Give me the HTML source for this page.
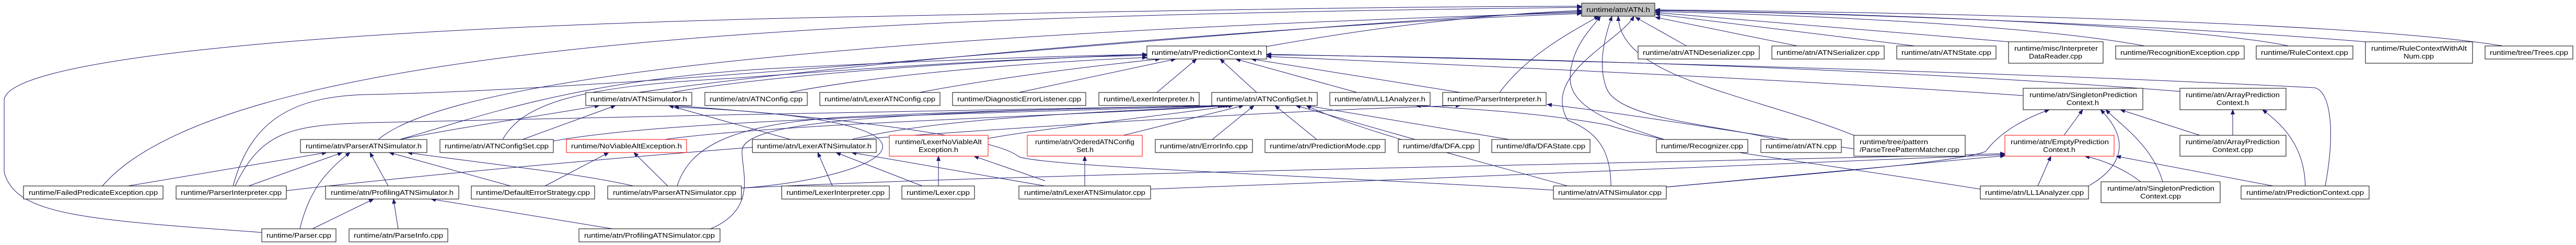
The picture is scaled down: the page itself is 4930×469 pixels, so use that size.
<!DOCTYPE html>
<html><head><meta charset="utf-8"><style>
html,body{margin:0;padding:0;background:#fff;}
svg{display:block;}
text{font-family:"Liberation Sans","DejaVu Sans",sans-serif;font-size:13px;fill:#000;}
.b{fill:#fff;stroke:#000;stroke-width:1;}
.r{fill:#fff;stroke:#ff0000;stroke-width:1;}
.g{fill:#bfbfbf;stroke:#000;stroke-width:1;}
.e{fill:none;stroke:#191970;stroke-width:1;marker-end:url(#ah);}
</style></head><body>
<svg width="4930" height="469" viewBox="0 0 4930 469" xmlns="http://www.w3.org/2000/svg">
<defs><marker id="ah" markerWidth="10" markerHeight="8" refX="9" refY="4" orient="auto" markerUnits="userSpaceOnUse"><path d="M0,0 L10,4 L0,8 z" fill="#191970"/></marker></defs>
<rect width="4930" height="469" fill="#fff"/>
<g>
<!-- to ATN.h -->
<path class="e" d="M2424,89 C2700,40 2900,25 3027,20"/>
<path class="e" d="M196,356 C450,60 1800,30 3027,14"/>
<path class="e" d="M501,445 C150,420 30,410 8,330 L8,190 C20,120 500,60 1500,35 C2200,20 2700,12 3027,12"/>
<path class="e" d="M446,356 C480,230 560,185 700,181 C1300,170 2500,40 3027,22"/>
<path class="e" d="M724,267 C850,160 1500,70 3027,24"/>
<path class="e" d="M1222,177 C1700,110 2600,40 3027,26"/>
<path class="e" d="M2870,177 C2920,110 2990,70 3060,31"/>
<path class="e" d="M3185,267 C3100,240 3005,210 3005,150 C3005,90 3050,50 3063,31"/>
<path class="e" d="M3397,267 C3300,240 3100,230 3075,170 C3055,120 3075,60 3085,31"/>
<path class="e" d="M3548,259 C3350,180 3100,150 3097,31"/>
<path class="e" d="M3083,356 C3083,280 3050,250 3000,230 C2950,140 3100,80 3127,31"/>
<path class="e" d="M3228,88 L3130,33"/>
<path class="e" d="M3440,88 L3168,33"/>
<path class="e" d="M3665,88 L3168,27"/>
<path class="e" d="M3844,80 L3168,24"/>
<path class="e" d="M4105,88 C3900,50 3500,30 3168,22"/>
<path class="e" d="M4380,88 C4200,50 3600,25 3168,20"/>
<path class="e" d="M4527,80 C4100,45 3500,25 3168,20"/>
<path class="e" d="M4790,88 C4500,40 3600,22 3168,19"/>
<!-- to PredictionContext.h -->
<path class="e" d="M1285,177 C1500,140 1900,115 2195,104"/>
<path class="e" d="M1510,177 C1700,140 2000,118 2195,110"/>
<path class="e" d="M1760,177 C1900,150 2100,125 2220,113"/>
<path class="e" d="M1950,177 L2250,113"/>
<path class="e" d="M2214,177 L2290,113"/>
<path class="e" d="M2405,177 L2335,113"/>
<path class="e" d="M2597,177 L2365,113"/>
<path class="e" d="M2795,177 L2395,113"/>
<path class="e" d="M765,267 C900,230 1100,150 1500,130 C1800,115 2000,108 2195,104"/>
<path class="e" d="M962,267 C1000,200 1100,165 1400,150 C1800,120 2000,110 2195,106"/>
<path class="e" d="M3872,183 C3400,150 2800,125 2424,108"/>
<path class="e" d="M4172,175 C3600,130 2900,110 2424,105"/>
<path class="e" d="M4450,356 C4470,250 4460,175 4430,168 C3900,140 3000,115 2424,104"/>
<!-- to ATNConfigSet.h -->
<path class="e" d="M1059,270 C1300,225 2000,215 2345,202"/>
<path class="e" d="M1272,267 C1500,235 2100,220 2350,202"/>
<path class="e" d="M1630,267 C1800,225 2100,215 2355,202"/>
<path class="e" d="M1891,265 C2000,245 2200,225 2360,202"/>
<path class="e" d="M2150,259 L2380,202"/>
<path class="e" d="M2320,267 L2400,202"/>
<path class="e" d="M2520,267 L2440,202"/>
<path class="e" d="M2708,267 L2480,202"/>
<path class="e" d="M2888,267 L2500,202"/>
<path class="e" d="M1296,356 C1320,280 1400,240 1600,225 C1900,210 2200,205 2345,202"/>
<path class="e" d="M450,356 C500,250 560,240 700,235 C1200,220 2000,212 2340,202"/>
<path class="e" d="M1360,438 C1450,400 1420,330 1420,290 C1420,240 1600,215 2345,202"/>
<path class="e" d="M3000,356 C2800,300 2600,250 2500,202"/>
<!-- to ATNSimulator.h -->
<path class="e" d="M765,267 C900,240 1050,220 1147,202"/>
<path class="e" d="M1000,267 L1178,202"/>
<path class="e" d="M1513,267 L1280,202"/>
<path class="e" d="M2973,364 C2600,340 2000,320 1950,300 C1900,260 1600,225 1290,202"/>
<path class="e" d="M1420,360 C1700,340 1900,230 1290,205"/>
<!-- to ParserATNSimulator.h -->
<path class="e" d="M245,356 L625,292"/>
<path class="e" d="M476,356 L655,292"/>
<path class="e" d="M574,438 C590,370 620,330 670,292"/>
<path class="e" d="M743,356 L708,292"/>
<path class="e" d="M977,356 L745,292"/>
<path class="e" d="M1212,356 C1100,330 900,310 780,292"/>
<!-- to ProfilingATNSimulator.h -->
<path class="e" d="M598,438 L715,381"/>
<path class="e" d="M762,438 L753,381"/>
<path class="e" d="M1172,438 L825,381"/>
<!-- NoViableAlt -->
<path class="e" d="M1043,356 L1165,292"/>
<path class="e" d="M1278,356 L1213,292"/>
<!-- LexerATNSimulator.h -->
<path class="e" d="M1593,356 L1565,292"/>
<path class="e" d="M1765,356 L1600,292"/>
<path class="e" d="M2000,356 L1630,292"/>
<path class="e" d="M1796,356 L1796,299"/>
<path class="e" d="M2000,346 L1864,299"/>
<path class="e" d="M2076,356 L2076,299"/>
<!-- LL1Analyzer.h, ParserInterpreter.h -->
<path class="e" d="M3790,362 C3400,300 3200,280 3080,240 C2950,215 2800,208 2710,202"/>
<path class="e" d="M548,365 C1200,290 2300,215 2795,202"/>
<path class="e" d="M3548,285 C3300,250 3100,215 2961,200"/>
<!-- SingletonPredictionContext.h -->
<path class="e" d="M3950,259 L3986,210"/>
<path class="e" d="M4139,348 C4120,280 4060,240 4030,210"/>
<path class="e" d="M4210,259 L4058,210"/>
<path class="e" d="M3997,356 C4060,320 4080,270 4020,210"/>
<path class="e" d="M3189,358 C3500,330 3750,310 3800,290 C3830,250 3880,225 3922,210"/>
<!-- EmptyPredictionContext.h -->
<path class="e" d="M3900,356 L3925,299"/>
<path class="e" d="M4097,348 C4060,320 4020,305 3990,299"/>
<path class="e" d="M4350,356 L4050,299"/>
<path class="e" d="M2202,362 C2800,340 3500,310 3837,296"/>
<path class="e" d="M3189,358 L3837,298"/>
<path class="e" d="M1419,360 C2000,330 3300,310 3837,294"/>
<!-- ArrayPredictionContext.h -->
<path class="e" d="M4273,259 L4273,210"/>
<path class="e" d="M4412,356 C4410,280 4370,240 4330,210"/>
</g>
<g>
<rect class="g" x="3027" y="6" width="140" height="25"/><text x="3036" y="23" textLength="122" lengthAdjust="spacingAndGlyphs">runtime/atn/ATN.h</text>
<rect class="b" x="2195" y="88" width="229" height="25"/><text x="2204" y="105" textLength="211" lengthAdjust="spacingAndGlyphs">runtime/atn/PredictionContext.h</text>
<rect class="b" x="3135" y="88" width="232" height="25"/><text x="3144" y="105" textLength="214" lengthAdjust="spacingAndGlyphs">runtime/atn/ATNDeserializer.cpp</text>
<rect class="b" x="3391" y="88" width="215" height="25"/><text x="3400" y="105" textLength="197" lengthAdjust="spacingAndGlyphs">runtime/atn/ATNSerializer.cpp</text>
<rect class="b" x="3630" y="88" width="190" height="25"/><text x="3639" y="105" textLength="172" lengthAdjust="spacingAndGlyphs">runtime/atn/ATNState.cpp</text>
<rect class="b" x="3844" y="80" width="181" height="41"/><text x="3855" y="97" textLength="160" lengthAdjust="spacingAndGlyphs">runtime/misc/Interpreter</text><text x="3883" y="112" textLength="102" lengthAdjust="spacingAndGlyphs">DataReader.cpp</text>
<rect class="b" x="4049" y="88" width="246" height="25"/><text x="4058" y="105" textLength="228" lengthAdjust="spacingAndGlyphs">runtime/RecognitionException.cpp</text>
<rect class="b" x="4318" y="88" width="185" height="25"/><text x="4327" y="105" textLength="167" lengthAdjust="spacingAndGlyphs">runtime/RuleContext.cpp</text>
<rect class="b" x="4527" y="80" width="205" height="41"/><text x="4538" y="97" textLength="183" lengthAdjust="spacingAndGlyphs">runtime/RuleContextWithAlt</text><text x="4600" y="112" textLength="58" lengthAdjust="spacingAndGlyphs">Num.cpp</text>
<rect class="b" x="4756" y="88" width="168" height="25"/><text x="4765" y="105" textLength="150" lengthAdjust="spacingAndGlyphs">runtime/tree/Trees.cpp</text>

<rect class="b" x="1121" y="177" width="203" height="25"/><text x="1130" y="194" textLength="185" lengthAdjust="spacingAndGlyphs">runtime/atn/ATNSimulator.h</text>
<rect class="b" x="1349" y="177" width="196" height="25"/><text x="1358" y="194" textLength="178" lengthAdjust="spacingAndGlyphs">runtime/atn/ATNConfig.cpp</text>
<rect class="b" x="1569" y="177" width="230" height="25"/><text x="1578" y="194" textLength="212" lengthAdjust="spacingAndGlyphs">runtime/atn/LexerATNConfig.cpp</text>
<rect class="b" x="1823" y="177" width="255" height="25"/><text x="1832" y="194" textLength="237" lengthAdjust="spacingAndGlyphs">runtime/DiagnosticErrorListener.cpp</text>
<rect class="b" x="2103" y="177" width="192" height="25"/><text x="2112" y="194" textLength="174" lengthAdjust="spacingAndGlyphs">runtime/LexerInterpreter.h</text>
<rect class="b" x="2319" y="177" width="202" height="25"/><text x="2328" y="194" textLength="184" lengthAdjust="spacingAndGlyphs">runtime/atn/ATNConfigSet.h</text>
<rect class="b" x="2545" y="177" width="192" height="25"/><text x="2554" y="194" textLength="174" lengthAdjust="spacingAndGlyphs">runtime/atn/LL1Analyzer.h</text>
<rect class="b" x="2761" y="177" width="198" height="25"/><text x="2770" y="194" textLength="180" lengthAdjust="spacingAndGlyphs">runtime/ParserInterpreter.h</text>
<rect class="b" x="3872" y="169" width="229" height="41"/><text x="3884" y="186" textLength="206" lengthAdjust="spacingAndGlyphs">runtime/atn/SingletonPrediction</text><text x="3955" y="201" textLength="62" lengthAdjust="spacingAndGlyphs">Context.h</text>
<rect class="b" x="4172" y="169" width="203" height="41"/><text x="4183" y="186" textLength="180" lengthAdjust="spacingAndGlyphs">runtime/atn/ArrayPrediction</text><text x="4242" y="201" textLength="62" lengthAdjust="spacingAndGlyphs">Context.h</text>

<rect class="b" x="575" y="267" width="242" height="25"/><text x="585" y="284" textLength="222" lengthAdjust="spacingAndGlyphs">runtime/atn/ParserATNSimulator.h</text>
<rect class="b" x="842" y="267" width="217" height="25"/><text x="851" y="284" textLength="199" lengthAdjust="spacingAndGlyphs">runtime/atn/ATNConfigSet.cpp</text>
<rect class="r" x="1084" y="267" width="230" height="25"/><text x="1093" y="284" textLength="212" lengthAdjust="spacingAndGlyphs">runtime/NoViableAltException.h</text>
<rect class="b" x="1440" y="267" width="237" height="25"/><text x="1449" y="284" textLength="219" lengthAdjust="spacingAndGlyphs">runtime/atn/LexerATNSimulator.h</text>
<rect class="r" x="1702" y="259" width="189" height="40"/><text x="1713" y="276" textLength="166" lengthAdjust="spacingAndGlyphs">runtime/LexerNoViableAlt</text><text x="1758" y="291" textLength="76" lengthAdjust="spacingAndGlyphs">Exception.h</text>
<rect class="r" x="1966" y="259" width="220" height="40"/><text x="1981" y="276" textLength="190" lengthAdjust="spacingAndGlyphs">runtime/atn/OrderedATNConfig</text><text x="2060" y="291" textLength="33" lengthAdjust="spacingAndGlyphs">Set.h</text>
<rect class="b" x="2211" y="267" width="186" height="25"/><text x="2220" y="284" textLength="168" lengthAdjust="spacingAndGlyphs">runtime/atn/ErrorInfo.cpp</text>
<rect class="b" x="2421" y="267" width="230" height="25"/><text x="2430" y="284" textLength="212" lengthAdjust="spacingAndGlyphs">runtime/atn/PredictionMode.cpp</text>
<rect class="b" x="2676" y="267" width="155" height="25"/><text x="2685" y="284" textLength="137" lengthAdjust="spacingAndGlyphs">runtime/dfa/DFA.cpp</text>
<rect class="b" x="2855" y="267" width="188" height="25"/><text x="2864" y="284" textLength="170" lengthAdjust="spacingAndGlyphs">runtime/dfa/DFAState.cpp</text>
<rect class="b" x="3170" y="267" width="175" height="25"/><text x="3179" y="284" textLength="157" lengthAdjust="spacingAndGlyphs">runtime/Recognizer.cpp</text>
<rect class="b" x="3370" y="267" width="154" height="25"/><text x="3379" y="284" textLength="136" lengthAdjust="spacingAndGlyphs">runtime/atn/ATN.cpp</text>
<rect class="b" x="3548" y="259" width="213" height="40"/><text x="3559" y="276" textLength="131" lengthAdjust="spacingAndGlyphs">runtime/tree/pattern</text><text x="3559" y="291" textLength="191" lengthAdjust="spacingAndGlyphs">/ParseTreePatternMatcher.cpp</text>
<rect class="r" x="3837" y="259" width="209" height="40"/><text x="3848" y="276" textLength="188" lengthAdjust="spacingAndGlyphs">runtime/atn/EmptyPrediction</text><text x="3910" y="291" textLength="62" lengthAdjust="spacingAndGlyphs">Context.h</text>
<rect class="b" x="4172" y="259" width="203" height="40"/><text x="4183" y="276" textLength="180" lengthAdjust="spacingAndGlyphs">runtime/atn/ArrayPrediction</text><text x="4234" y="291" textLength="78" lengthAdjust="spacingAndGlyphs">Context.cpp</text>

<rect class="b" x="45" y="356" width="267" height="25"/><text x="55" y="373" textLength="247" lengthAdjust="spacingAndGlyphs">runtime/FailedPredicateException.cpp</text>
<rect class="b" x="337" y="356" width="211" height="25"/><text x="346" y="373" textLength="193" lengthAdjust="spacingAndGlyphs">runtime/ParserInterpreter.cpp</text>
<rect class="b" x="623" y="356" width="255" height="25"/><text x="633" y="373" textLength="235" lengthAdjust="spacingAndGlyphs">runtime/atn/ProfilingATNSimulator.h</text>
<rect class="b" x="902" y="356" width="236" height="25"/><text x="911" y="373" textLength="218" lengthAdjust="spacingAndGlyphs">runtime/DefaultErrorStrategy.cpp</text>
<rect class="b" x="1163" y="356" width="256" height="25"/><text x="1173" y="373" textLength="236" lengthAdjust="spacingAndGlyphs">runtime/atn/ParserATNSimulator.cpp</text>
<rect class="b" x="1496" y="356" width="206" height="25"/><text x="1505" y="373" textLength="188" lengthAdjust="spacingAndGlyphs">runtime/LexerInterpreter.cpp</text>
<rect class="b" x="1726" y="356" width="139" height="25"/><text x="1735" y="373" textLength="121" lengthAdjust="spacingAndGlyphs">runtime/Lexer.cpp</text>
<rect class="b" x="1950" y="356" width="252" height="25"/><text x="1960" y="373" textLength="232" lengthAdjust="spacingAndGlyphs">runtime/atn/LexerATNSimulator.cpp</text>
<rect class="b" x="2973" y="356" width="216" height="25"/><text x="2982" y="373" textLength="198" lengthAdjust="spacingAndGlyphs">runtime/atn/ATNSimulator.cpp</text>
<rect class="b" x="3790" y="356" width="207" height="25"/><text x="3799" y="373" textLength="189" lengthAdjust="spacingAndGlyphs">runtime/atn/LL1Analyzer.cpp</text>
<rect class="b" x="4021" y="348" width="228" height="40"/><text x="4033" y="365" textLength="205" lengthAdjust="spacingAndGlyphs">runtime/atn/SingletonPrediction</text><text x="4096" y="380" textLength="78" lengthAdjust="spacingAndGlyphs">Context.cpp</text>
<rect class="b" x="4289" y="356" width="245" height="25"/><text x="4299" y="373" textLength="225" lengthAdjust="spacingAndGlyphs">runtime/atn/PredictionContext.cpp</text>

<rect class="b" x="501" y="438" width="142" height="25"/><text x="510" y="455" textLength="124" lengthAdjust="spacingAndGlyphs">runtime/Parser.cpp</text>
<rect class="b" x="668" y="438" width="189" height="25"/><text x="677" y="455" textLength="171" lengthAdjust="spacingAndGlyphs">runtime/atn/ParseInfo.cpp</text>
<rect class="b" x="1108" y="438" width="270" height="25"/><text x="1118" y="455" textLength="250" lengthAdjust="spacingAndGlyphs">runtime/atn/ProfilingATNSimulator.cpp</text>
</g>
</svg>
</body></html>
